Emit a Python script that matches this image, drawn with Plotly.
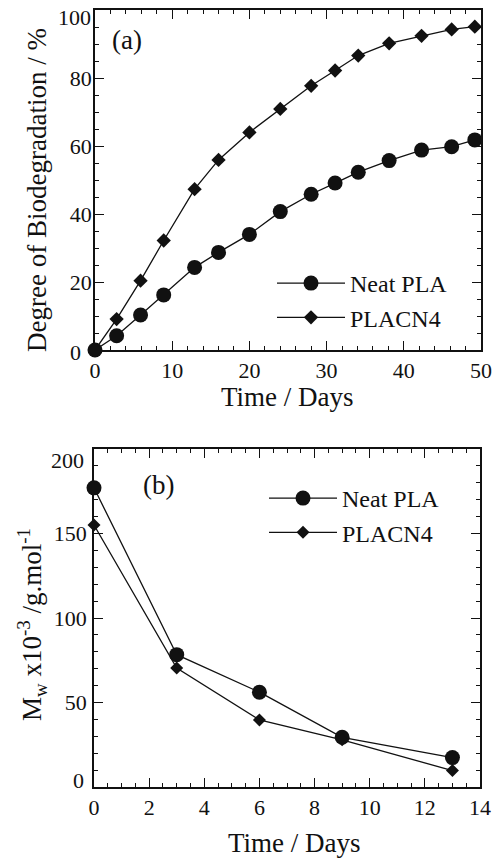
import plotly.graph_objects as go

# ---- data: (a) degree of biodegradation ----
days_a = [0, 2.8, 5.9, 8.9, 12.9, 16.0, 20.0, 24.0, 28.0, 31.1, 34.1, 38.1, 42.3, 46.2, 49.2]
neat_pla_a = [0, 4.2, 10.3, 16.2, 24.3, 28.7, 34.0, 40.7, 45.8, 49.1, 52.3, 55.7, 58.8, 59.8, 61.8]
placn4_a = [0, 9.1, 20.4, 32.2, 47.3, 55.9, 64.0, 70.9, 77.7, 82.2, 86.6, 90.2, 92.4, 94.3, 95.1]
yticks_a = [0, 20, 40, 60, 80, 100]

# ---- data: (b) molecular weight ----
days_b = [0, 3, 6, 9, 13]
neat_pla_b = [177, 78.3, 56.1, 29.4, 17.4]
placn4_b = [155, 70.4, 39.7, 27.9, 9.7]
yticks_b = [0, 50, 100, 150, 200]

W, H = 497, 858
FONT = "'Liberation Serif', 'Times New Roman', 'DejaVu Serif', serif"
INK = "#111111"


def px(x):
    return x / W


def py(y):
    return 1 - y / H


fig = go.Figure()

line_style = dict(color=INK, width=1.3)
fig.add_trace(go.Scatter(x=days_a, y=neat_pla_a, mode="lines+markers", name="Neat PLA",
                         line=line_style, marker=dict(symbol="circle", size=15, color=INK),
                         cliponaxis=False, xaxis="x", yaxis="y", legend="legend"))
fig.add_trace(go.Scatter(x=days_a, y=placn4_a, mode="lines+markers", name="PLACN4",
                         line=line_style, marker=dict(symbol="diamond", size=11, color=INK),
                         cliponaxis=False, xaxis="x", yaxis="y", legend="legend"))
fig.add_trace(go.Scatter(x=days_b, y=neat_pla_b, mode="lines+markers", name="Neat PLA",
                         line=line_style, marker=dict(symbol="circle", size=15, color=INK),
                         cliponaxis=False, xaxis="x2", yaxis="y2", legend="legend2"))
fig.add_trace(go.Scatter(x=days_b, y=placn4_b, mode="lines+markers", name="PLACN4",
                         line=line_style, marker=dict(symbol="diamond", size=10, color=INK),
                         cliponaxis=False, xaxis="x2", yaxis="y2", legend="legend2"))

tickfont = dict(family=FONT, size=22, color=INK)


def ax(**kw):
    d = dict(showline=True, linecolor=INK, linewidth=1.6, mirror="ticks",
             ticks="inside", ticklen=9, tickwidth=1.4, tickcolor=INK,
             showgrid=False, zeroline=False, tickfont=tickfont, automargin=False,
             ticklabeloverflow="allow")
    d.update(kw)
    return d


# end labels of the y axes are nudged inward in the reference, so they are drawn as annotations
ticktext_a = [""] + [str(v) for v in yticks_a[1:-1]] + [""]
ticktext_b = [""] + [str(v) for v in yticks_b[1:-1]] + [""]

fig.update_layout(
    template="none",
    width=W, height=H, autosize=False,
    margin=dict(l=0, r=0, t=0, b=0, pad=0),
    paper_bgcolor="white", plot_bgcolor="white",
    font=dict(family=FONT, color=INK),
    xaxis=ax(domain=[px(95), px(481)], range=[0, 50], dtick=10, anchor="y",
             minor=dict(ticks="inside", ticklen=4, dtick=2, tickcolor=INK, tickwidth=1.2)),
    yaxis=ax(domain=[py(350), py(10)], range=[0, 100], tickvals=yticks_a, ticktext=ticktext_a,
             anchor="x", ticklabelstandoff=-3,
             minor=dict(ticks="inside", ticklen=4, dtick=5, tickcolor=INK, tickwidth=1.2)),
    xaxis2=ax(domain=[px(94), px(480)], range=[0, 14], dtick=2, anchor="y2",
              minor=dict(ticks="inside", ticklen=4, dtick=0.5, tickcolor=INK, tickwidth=1.2)),
    yaxis2=ax(domain=[py(787), py(449)], range=[0, 200], tickvals=yticks_b, ticktext=ticktext_b,
              anchor="x2", ticklabelstandoff=1,
              minor=dict(ticks="inside", ticklen=4, dtick=10, tickcolor=INK, tickwidth=1.2)),
    legend=dict(x=px(272), y=py(261), xanchor="left", yanchor="top",
                bgcolor="rgba(0,0,0,0)", font=dict(family=FONT, size=24, color=INK),
                itemwidth=68, tracegroupgap=0),
    legend2=dict(x=px(264), y=py(476), xanchor="left", yanchor="top",
                 bgcolor="rgba(0,0,0,0)", font=dict(family=FONT, size=24, color=INK),
                 itemwidth=68, tracegroupgap=0),
    showlegend=True,
)

ann_font = dict(family=FONT, size=27, color=INK)
annotations = [
    dict(text="(a)", x=px(127), y=py(40)),
    dict(text="Time / Days", x=px(287), y=py(397)),
    dict(text="Degree of Biodegradation / %", x=px(37), y=py(190), textangle=-90),
    dict(text="(b)", x=px(158), y=py(485)),
    dict(text="Time / Days", x=px(294), y=py(843)),
    dict(text="M<sub>w</sub> x10<sup>-3</sup> /g.mol<sup>-1</sup>", x=px(32), y=py(625), textangle=-90),
]
for a in annotations:
    fig.add_annotation(xref="paper", yref="paper", showarrow=False, font=ann_font,
                       xanchor="center", yanchor="middle", **a)

# nudged end tick labels (value text, right edge x px, centre y px)
end_labels = [
    (str(yticks_a[-1]), 93, 17),
    (str(yticks_a[0]), 83, 352),
    (str(yticks_b[-1]), 86, 460),
    (str(yticks_b[0]), 86, 780),
]
for txt, xr, yc in end_labels:
    fig.add_annotation(xref="paper", yref="paper", showarrow=False, font=tickfont,
                       text=txt, x=px(xr), y=py(yc), xanchor="right", yanchor="middle")

fig.write_html("out.html", config={"displayModeBar": False},
               post_script="document.body.style.margin='0';document.body.style.overflow='hidden';")
